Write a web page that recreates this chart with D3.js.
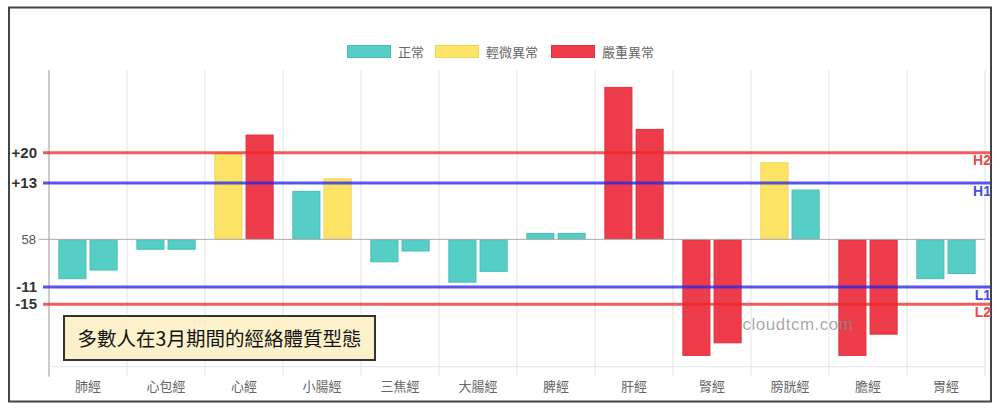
<!DOCTYPE html>
<html><head><meta charset="utf-8">
<script src="https://cdn.jsdelivr.net/npm/d3@7"></script>
<style>
html,body{margin:0;padding:0;background:#fff;}
svg{display:block;font-family:"Noto Sans CJK TC","Noto Sans",sans-serif;}
</style></head>
<body><svg id="c" width="1000" height="411"></svg>
<script>
const categories = ['肺經','心包經','心經','小腸經','三焦經','大腸經','脾經','肝經','腎經','膀胱經','膽經','胃經'];
const seriesA = [-9.2, -2.4, 20.0, 11.2, -5.3, -10.0, 1.5, 35.2, -26.9, 17.8, -26.9, -9.2];
const seriesB = [-7.2, -2.4, 24.2, 14.1, -2.8, -7.5, 1.5, 25.5, -24.0, 11.5, -22.0, -8.0];
const levelA = [0,0,1,0,0,0,0,2,2,1,2,0];
const levelB = [0,0,2,1,0,0,0,2,2,0,2,0];
const legendLabels = ['正常','輕微異常','嚴重異常'];
const levelColors = ['#55CEC6','#FDE465','#EE3C4B'];
const levelStroke = ['#4BBDB5','#EDD45A','#DD3342'];
const thresholdValues = [20, 13, -11, -15];
const thresholdTicks = ['+20','+13','-11','-15'];
const thresholdNames = ['H2','H1','L1','L2'];
const thresholdColors = ['rgba(232,40,40,0.75)','rgba(40,40,230,0.78)','rgba(40,40,230,0.78)','rgba(232,40,40,0.75)'];
const thresholdText = ['#E84C4C','#4A4AE0','#4A4AE0','#E84C4C'];
const zeroLabel = '58';
const yDomain = [-29.4, 39.1];
const title = '多數人在3月期間的經絡體質型態';
const watermark = 'cloudtcm.com';

const svg = d3.select('#c');
const L = 49, R = 985, T = 70, B = 366.7;

// frame
svg.append('rect').attr('x',9).attr('y',7.5).attr('width',982).attr('height',394)
  .attr('fill','#fff').attr('stroke','#444').attr('stroke-width',2);

const x0 = d3.scaleBand().domain(categories).range([L,R]).paddingInner(0).paddingOuter(0);
const x1 = d3.scaleBand().domain([0,1]).range([x0.bandwidth()*0.1, x0.bandwidth()*0.9]).paddingInner(0.1).paddingOuter(0.05);
const y = d3.scaleLinear().domain(yDomain).range([B,T]);

// vertical grid lines
const vx = categories.map(c=>x0(c)).concat([R]);
svg.append('g').selectAll('line').data(vx).join('line')
  .attr('x1',d=>d).attr('x2',d=>d).attr('y1',T).attr('y2',B+10)
  .attr('stroke',(d,i)=>i===0?'#999':'#e4e4e4').attr('stroke-width',1);
// bottom gridline
svg.append('line').attr('x1',L).attr('x2',R).attr('y1',B).attr('y2',B).attr('stroke','#e4e4e4');

// bars
const rows = [];
categories.forEach((c,i)=>{
  rows.push({c, k:0, v:seriesA[i], lv:levelA[i]});
  rows.push({c, k:1, v:seriesB[i], lv:levelB[i]});
});
svg.append('g').selectAll('rect').data(rows).join('rect')
  .attr('x',d=>x0(d.c)+x1(d.k)+0.5)
  .attr('width',x1.bandwidth()-1)
  .attr('y',d=>Math.min(y(d.v),y(0))+0.5)
  .attr('height',d=>Math.abs(y(d.v)-y(0))-1)
  .attr('fill',d=>levelColors[d.lv])
  .attr('stroke',d=>levelStroke[d.lv]).attr('stroke-width',1);

// zero line
svg.append('line').attr('x1',L-10).attr('x2',R).attr('y1',y(0)).attr('y2',y(0)).attr('stroke','#aaa').attr('stroke-width',1);
svg.append('text').attr('x',L-13).attr('y',y(0)+4.5).attr('text-anchor','end')
  .attr('font-size',13).attr('fill','#555').attr('font-family','Liberation Sans, Arial, sans-serif').text(zeroLabel);

// watermark
svg.append('text').attr('x',798).attr('y',330).attr('text-anchor','middle')
  .attr('font-size',17).attr('fill','rgba(140,140,140,0.75)').attr('font-family','Liberation Sans, Arial, sans-serif')
  .attr('letter-spacing',0.5).text(watermark);

// threshold lines
const tg = svg.append('g');
thresholdValues.forEach((v,i)=>{
  tg.append('line').attr('x1',L-6).attr('x2',990).attr('y1',y(v)).attr('y2',y(v))
    .attr('stroke',thresholdColors[i]).attr('stroke-width',3);
  tg.append('text').attr('x',L-12).attr('y',y(v)+5).attr('text-anchor','end')
    .attr('font-size',15).attr('font-weight','bold').attr('fill','#333')
    .attr('font-family','Liberation Sans, Arial, sans-serif').text(thresholdTicks[i]);
  tg.append('text').attr('x',991).attr('y',y(v)+12.5).attr('text-anchor','end')
    .attr('font-size',14).attr('font-weight','bold').attr('fill',thresholdText[i])
    .attr('font-family','Liberation Sans, Arial, sans-serif').text(thresholdNames[i]);
});

// x labels
svg.append('g').selectAll('text').data(categories).join('text')
  .attr('x',d=>x0(d)+x0.bandwidth()/2).attr('y',391).attr('text-anchor','middle')
  .attr('font-size',13).attr('fill','#666').text(d=>d);

// legend
const legX = [347, 435, 551];
legendLabels.forEach((t,i)=>{
  svg.append('rect').attr('x',legX[i]+0.5).attr('y',45.5).attr('width',43).attr('height',12)
    .attr('fill',levelColors[i]).attr('stroke',levelStroke[i]).attr('stroke-width',1);
  svg.append('text').attr('x',legX[i]+51).attr('y',56.5).attr('font-size',13).attr('fill','#666').text(t);
});

// title box
svg.append('rect').attr('x',64).attr('y',316).attr('width',311).attr('height',44)
  .attr('fill','#FDF1CC').attr('stroke','#333').attr('stroke-width',2);
svg.append('text').attr('x',219.5).attr('y',345.5).attr('text-anchor','middle')
  .attr('font-size',19.5).attr('fill','#111').text(title);
</script></body></html>
